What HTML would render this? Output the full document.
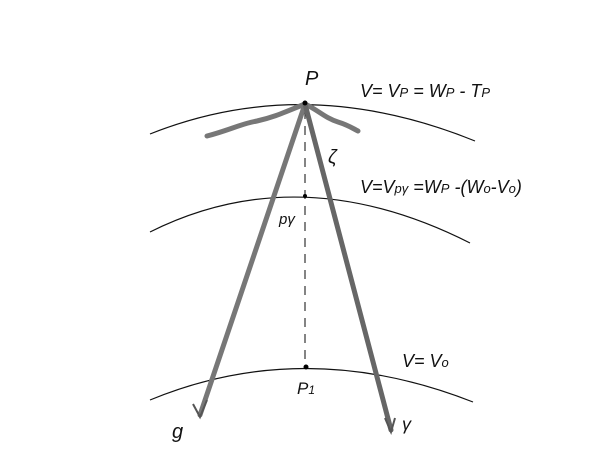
<!DOCTYPE html>
<html><head><style>
body{margin:0;background:#fff}
svg text{font-family:"Liberation Sans",sans-serif;font-style:italic;fill:#111}
</style></head><body>
<svg width="600" height="457" viewBox="0 0 600 457">
<g fill="none" stroke="#111" stroke-width="1.2">
<path d="M150,134 Q305,72 475,141"/>
<path d="M150,232 Q300,157 470,243"/>
<path d="M150,400 Q305,336 473,402"/>
<path d="M305,110 L305,367" stroke-dasharray="9,7" stroke="#333"/>
</g>
<g fill="none" stroke="#777" stroke-width="5" stroke-linecap="round">
<path d="M207,136 C230,130 240,124 257,121 C275,117 285,112 305,104"/>
<path d="M305,104 C318,110 325,118 338,122 C348,125 352,128 358,131"/>
<path d="M305,104 L200,415"/>
<path d="M305,104 L391,430" stroke="#666"/>
</g>
<g fill="none" stroke="#555" stroke-width="2">
<path d="M193,404 L200,417 L207,400"/>
<path d="M385,418 L391,432 L395,418"/>
</g>
<circle cx="305" cy="103" r="2.5" fill="#000"/>
<circle cx="305" cy="196" r="2" fill="#000"/>
<circle cx="306" cy="367" r="2.5" fill="#000"/>
<text x="305" y="85" font-size="20">P</text>
<text x="360" y="97" font-size="18">V= V<tspan font-size="13">P</tspan> = W<tspan font-size="13">P</tspan> - T<tspan font-size="13">P</tspan></text>
<text x="328" y="163" font-size="19">ζ</text>
<text x="360" y="193" font-size="18">V=V<tspan font-size="13">pγ</tspan> =W<tspan font-size="13">P</tspan> -(W<tspan font-size="13">o</tspan>-V<tspan font-size="13">o</tspan>)</text>
<text x="279" y="224" font-size="15">pγ</text>
<text x="402" y="367" font-size="18">V= V<tspan font-size="13">o</tspan></text>
<text x="297" y="394" font-size="17">P<tspan font-size="12">1</tspan></text>
<text x="172" y="438" font-size="20">g</text>
<text x="402" y="430" font-size="18">γ</text>
</svg>
</body></html>
